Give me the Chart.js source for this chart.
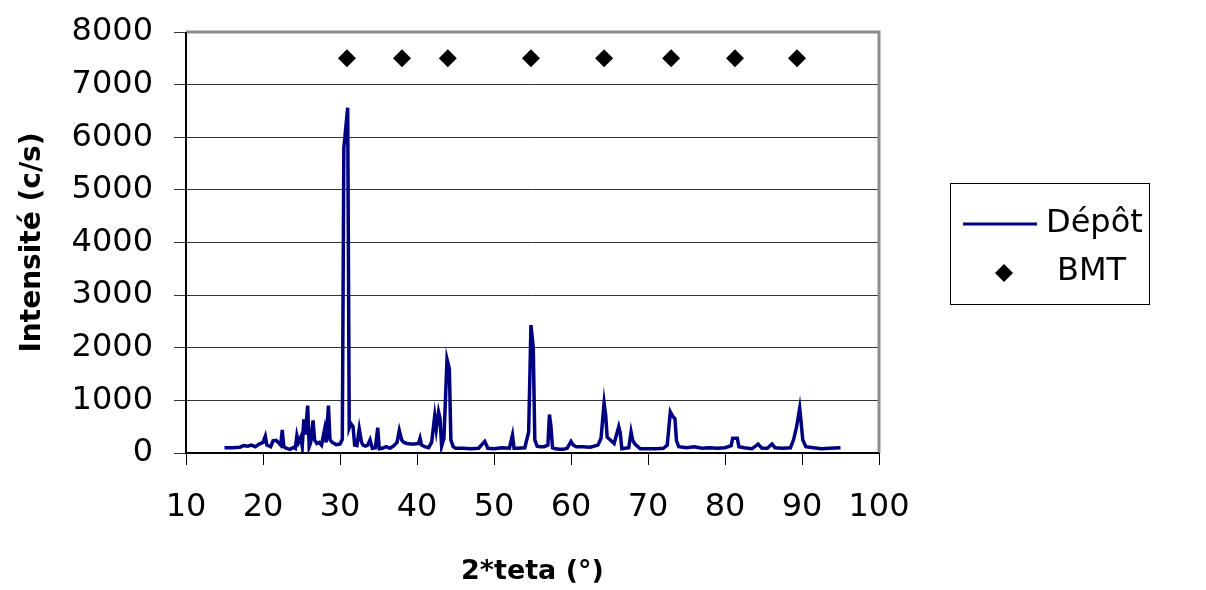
<!DOCTYPE html>
<html>
<head>
<meta charset="utf-8">
<script src="https://cdn.jsdelivr.net/npm/chart.js@4.4.1/dist/chart.umd.min.js"></script>
<style>
html,body{margin:0;padding:0;background:#fff;}
#wrap{width:1206px;height:590px;position:relative;}
</style>
</head>
<body>
<div id="wrap"><canvas id="c" width="1206" height="590"></canvas></div>
<script>
// 2θ (°) positions of the measured pattern
const twoTheta = [15.0,16.0,17.0,17.5,18.0,18.5,19.0,19.5,20.0,20.3,20.5,21.0,21.3,21.7,22.0,22.3,22.5,22.7,23.0,23.5,24.0,24.2,24.4,24.6,24.9,25.1,25.3,25.5,25.8,26.0,26.2,26.5,26.7,27.0,27.3,27.6,28.0,28.2,28.5,28.7,29.0,29.5,30.0,30.3,30.5,31.0,31.2,31.4,31.7,31.9,32.2,32.5,32.8,33.0,33.3,33.6,33.9,34.2,34.6,34.9,35.1,35.5,36.0,36.5,37.0,37.4,37.7,38.0,38.3,38.7,39.2,39.7,40.2,40.4,40.6,41.0,41.5,41.9,42.3,42.5,42.8,43.0,43.2,43.5,43.9,44.2,44.4,44.7,45.0,46.0,47.0,48.0,48.8,49.2,50.0,51.0,52.0,52.4,52.6,53.0,54.0,54.5,54.8,55.1,55.3,55.6,56.0,56.5,57.0,57.2,57.4,57.6,58.0,58.5,59.0,59.5,60.0,60.3,60.7,61.5,62.5,63.5,63.9,64.3,64.5,64.7,65.0,65.6,66.2,66.4,66.6,67.0,67.5,67.8,68.0,68.3,69.0,70.0,71.0,72.0,72.5,72.9,73.2,73.5,73.7,74.0,75.0,76.0,77.0,78.0,79.0,80.0,80.8,81.0,81.6,81.8,82.5,83.5,84.3,84.8,85.5,86.1,86.5,87.5,88.5,88.9,89.3,89.7,89.9,90.1,90.5,91.5,92.5,93.5,95.0];
// Intensité (c/s) of the deposit
const depot = [100,100,110,140,130,150,120,170,200,320,150,120,230,240,200,150,440,120,90,70,110,90,330,200,300,120,640,350,900,120,200,620,250,180,200,150,450,200,900,250,200,160,170,260,5800,6560,480,560,500,150,140,460,200,150,130,150,250,90,100,480,80,90,120,90,140,200,430,250,200,180,170,170,180,280,150,120,100,200,700,450,780,650,130,280,1780,1600,250,120,90,90,80,90,220,90,80,100,90,340,90,90,100,400,2430,2000,250,130,120,120,150,730,500,100,80,70,70,90,220,150,120,120,110,150,280,950,720,300,260,180,500,380,80,90,100,400,250,170,80,80,80,90,150,780,700,650,230,120,100,120,90,100,90,100,140,280,280,120,100,80,170,90,90,170,100,90,100,250,500,850,560,250,120,100,80,90,100];
// BMT reference peak positions and marker level
const bmtTheta = [30.9,38.05,44.0,54.8,64.3,73.0,81.3,89.35];
const bmtLevel = [7500,7500,7500,7500,7500,7500,7500,7500];
const xTicks = [10,20,30,40,50,60,70,80,90,100];
const yTicks = [0,1000,2000,3000,4000,5000,6000,7000,8000];
const seriesNames = ['Dépôt','BMT'];
const xTitle = '2*teta (°)';
const yTitle = 'Intensité (c/s)';

const NAVY = '#000080';
const FONT = '"DejaVu Sans", sans-serif';

const borderPlugin = {
  id: 'plotBorder',
  afterDatasetsDraw(chart) {
    const {ctx, chartArea: a} = chart;
    ctx.save();
    ctx.strokeStyle = '#8c8c8c';
    ctx.lineWidth = 3;
    ctx.beginPath();
    ctx.moveTo(a.left, a.top); ctx.lineTo(a.right, a.top); ctx.lineTo(a.right, a.bottom);
    ctx.stroke();
    ctx.strokeStyle = '#000';
    ctx.lineWidth = 2;
    ctx.beginPath();
    ctx.moveTo(a.left, a.top); ctx.lineTo(a.left, a.bottom); ctx.lineTo(a.right, a.bottom);
    ctx.stroke();
    ctx.restore();
  }
};

const legendPlugin = {
  id: 'boxLegend',
  afterDraw(chart) {
    const ctx = chart.ctx;
    ctx.save();
    ctx.strokeStyle = '#000';
    ctx.lineWidth = 1;
    ctx.strokeRect(950.5, 183.5, 199, 121);
    ctx.strokeStyle = NAVY;
    ctx.lineWidth = 3;
    ctx.beginPath(); ctx.moveTo(963, 224); ctx.lineTo(1037, 224); ctx.stroke();
    ctx.fillStyle = '#000';
    ctx.beginPath();
    ctx.moveTo(1004, 264); ctx.lineTo(1013, 273); ctx.lineTo(1004, 282); ctx.lineTo(995, 273); ctx.closePath();
    ctx.fill();
    ctx.font = '32px ' + FONT;
    ctx.textBaseline = 'middle';
    ctx.textAlign = 'left';
    ctx.fillText(seriesNames[0], 1046, 224);
    ctx.fillText(seriesNames[1], 1057, 272);
    ctx.restore();
  }
};

new Chart(document.getElementById('c'), {
  type: 'scatter',
  data: {
    datasets: [
      {
        label: seriesNames[0],
        data: twoTheta.map((x, i) => ({x, y: depot[i]})),
        showLine: true,
        borderColor: NAVY,
        borderWidth: 3.5,
        pointRadius: 0,
        tension: 0,
        order: 2
      },
      {
        label: seriesNames[1],
        data: bmtTheta.map((x, i) => ({x, y: bmtLevel[i]})),
        showLine: false,
        pointStyle: 'rectRot',
        pointRadius: 9,
        pointHoverRadius: 9,
        backgroundColor: '#000',
        borderColor: '#000',
        borderWidth: 0,
        order: 1
      }
    ]
  },
  options: {
    responsive: false,
    animation: false,
    events: [],
    layout: {padding: {top: 32, right: 327, left: 0, bottom: 0}},
    plugins: {legend: {display: false}, tooltip: {enabled: false}},
    scales: {
      x: {
        type: 'linear', min: 10, max: 100,
        afterBuildTicks(s) { s.ticks = xTicks.map(v => ({value: v})); },
        afterFit(s) { s.height = 137; },
        border: {display: false},
        grid: {drawOnChartArea: false, drawTicks: true, tickLength: 12, color: '#000', lineWidth: 1},
        ticks: {color: '#000', font: {family: FONT, size: 32}, padding: 23, maxRotation: 0, autoSkip: false, callback: v => String(v)},
        title: {display: true, text: xTitle, color: '#000', font: {family: FONT, size: 27, weight: 'bold'}, padding: {top: 0, bottom: 2}}
      },
      y: {
        min: 0, max: 8000,
        afterBuildTicks(s) { s.ticks = yTicks.map(v => ({value: v})); },
        afterFit(s) { s.width = 186; s.paddingTop = 10; s.paddingBottom = 10; },
        border: {display: false},
        grid: {drawOnChartArea: true, drawTicks: true, tickLength: 12, color: '#333', lineWidth: 1},
        ticks: {color: '#000', font: {family: FONT, size: 32}, padding: 21, autoSkip: false, callback: v => String(v)},
        title: {display: true, text: yTitle, color: '#000', font: {family: FONT, size: 28, weight: 'bold'}, padding: {top: 16, bottom: 0}}
      }
    }
  },
  plugins: [borderPlugin, legendPlugin]
});
</script>
</body>
</html>
